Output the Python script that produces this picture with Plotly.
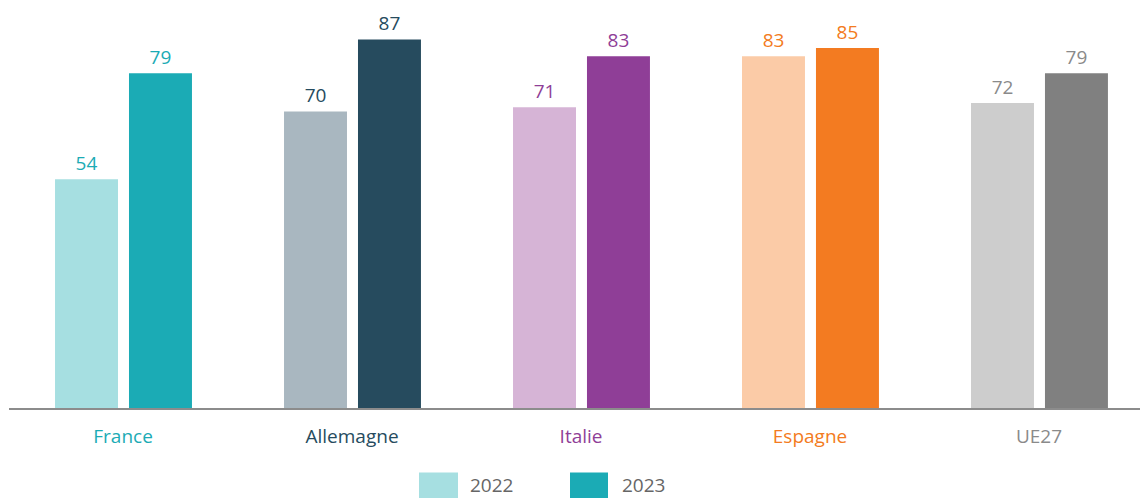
import plotly.graph_objects as go

categories = ["France", "Allemagne", "Italie", "Espagne", "UE27"]
values_2022 = [54, 70, 71, 83, 72]
values_2023 = [79, 87, 83, 85, 79]
colors_2022 = ["#A6DFE1", "#A9B7C0", "#D6B4D6", "#FBCBA7", "#CDCDCD"]
colors_2023 = ["#1BABB5", "#264B5E", "#8F3E97", "#F37B21", "#808080"]
label_colors = ["#1BABB5", "#264B5E", "#8F3E97", "#F37B21", "#8A8A8A"]
legend_labels = ["2022", "2023"]

FONT = "Open Sans"
FS = 19

fig = go.Figure()
fig.add_trace(go.Bar(
    x=list(range(len(categories))), y=values_2022, name="2022",
    marker=dict(color=colors_2022, line=dict(width=0)),
    width=0.275, offset=-0.297,
    text=[str(v) for v in values_2022], textposition="outside",
    textfont=dict(family=FONT, size=FS, color=label_colors),
    cliponaxis=False, showlegend=False,
))
fig.add_trace(go.Bar(
    x=list(range(len(categories))), y=values_2023, name="2023",
    marker=dict(color=colors_2023, line=dict(width=0)),
    width=0.275, offset=0.026,
    text=[str(v) for v in values_2023], textposition="outside",
    textfont=dict(family=FONT, size=FS, color=label_colors),
    cliponaxis=False, showlegend=False,
))

ticktext = [f'<span style="color:{c}">{n}</span>' for n, c in zip(categories, label_colors)]

fig.update_layout(
    width=1140, height=498,
    margin=dict(l=9, r=0, t=0, b=89.5),
    plot_bgcolor="white", paper_bgcolor="white",
    font=dict(family=FONT, size=FS, color="#666666"),
    barmode="overlay",
    xaxis=dict(
        range=[-0.498, 4.441], tickvals=list(range(len(categories))),
        ticktext=ticktext, showgrid=False, zeroline=False,
        showline=True, linecolor="#8C8C8C", linewidth=2,
        ticks="", ticklabelstandoff=10,
        tickfont=dict(family=FONT, size=FS),
    ),
    yaxis=dict(range=[0, 96.3], visible=False, showgrid=False, zeroline=False),
)

# Legend drawn as swatches + labels below the axis
legend_items = [(legend_labels[0], colors_2022[0], 419, 458, 468),
                (legend_labels[1], colors_2023[0], 570, 608, 620)]
ph = 408.5
for lab, col, x0, x1, tx in legend_items:
    fig.add_shape(type="rect", xref="paper", yref="paper",
                  x0=(x0 - 9) / 1131, x1=(x1 - 9) / 1131,
                  y0=(ph - 500) / ph, y1=(ph - 473) / ph,
                  fillcolor=col, line=dict(width=0), layer="above")
    fig.add_annotation(xref="paper", yref="paper", x=(tx - 9) / 1131,
                       y=(ph - 471) / ph, xanchor="left", yanchor="top",
                       text=lab, showarrow=False,
                       font=dict(family=FONT, size=FS, color="#666666"))

fig.write_html("out.html", config={"displayModeBar": False},
               post_script="document.body.style.margin='0';")
